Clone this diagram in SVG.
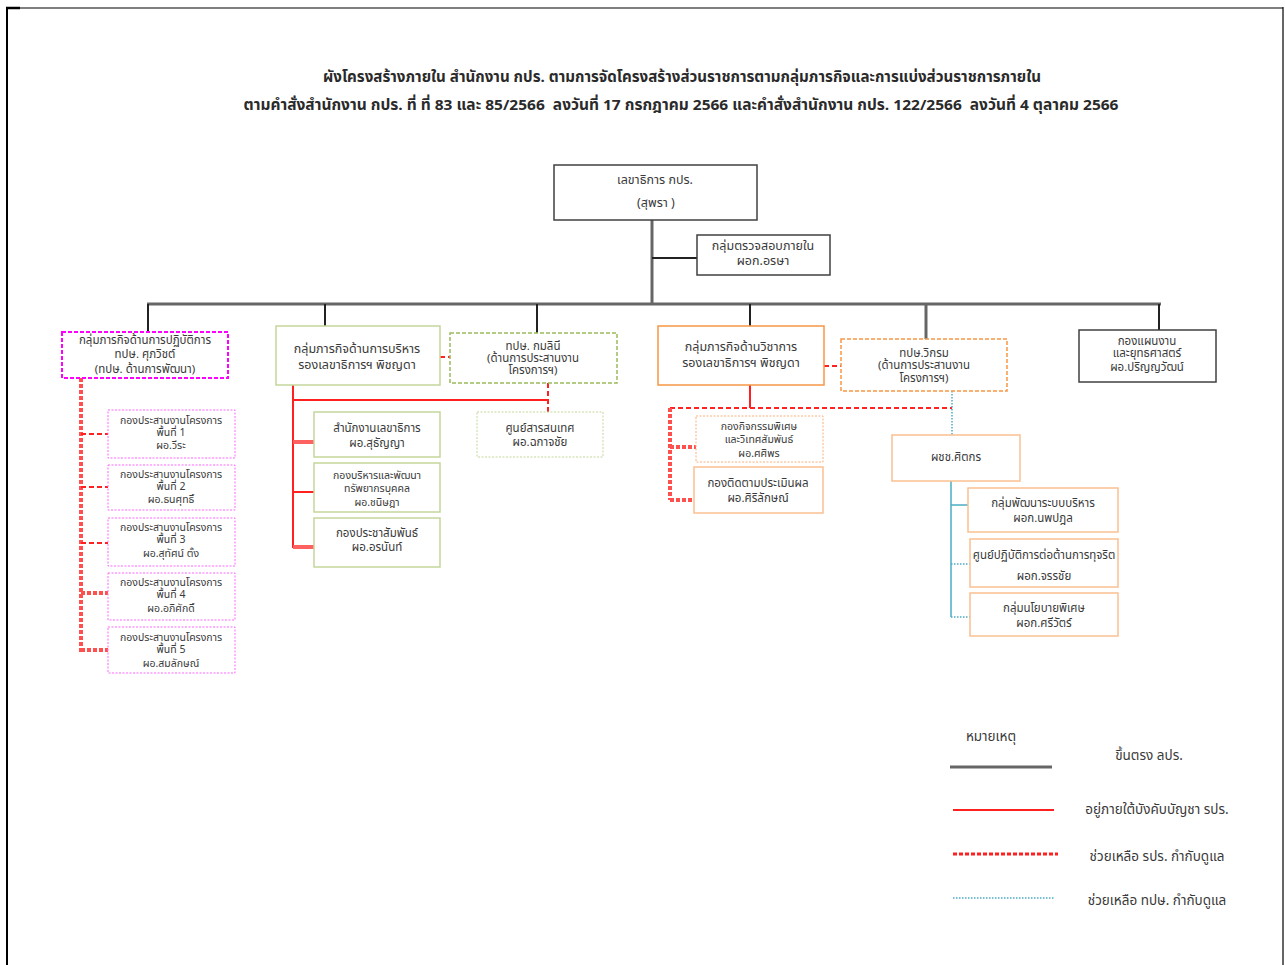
<svg xmlns="http://www.w3.org/2000/svg" width="1285" height="965" viewBox="0 0 1285 965">
<style>
text{font-family:"Noto Sans Thai","Tahoma","Liberation Sans","Noto Sans",sans-serif;fill:#3a3a3a;text-anchor:middle}
.t{font-size:15px;fill:#2a2a2a;font-weight:bold;white-space:pre}
.n{font-size:10.5px}
.m{font-size:11.5px}
.h{font-size:12.5px}
.l{font-size:13.5px}
.box{fill:#fff}
.blk{stroke:#404040;stroke-width:1.5}
.mag{stroke:#ff00ff;stroke-width:2;stroke-dasharray:4 2}
.pink{stroke:#ff66ff;stroke-width:1;stroke-dasharray:2 1.5}
.grn{stroke:#c3d69b;stroke-width:1.5}
.grnd{stroke:#9bbb59;stroke-width:1.5;stroke-dasharray:4 2}
.grnp{stroke:#c3d69b;stroke-width:1;stroke-dasharray:2 1.5}
.org{stroke:#f79646;stroke-width:1.5}
.orgd{stroke:#f79646;stroke-width:1.5;stroke-dasharray:4 2}
.orgp{stroke:#fab07a;stroke-width:1;stroke-dasharray:2 1.5}
.orgl{stroke:#fac090;stroke-width:1.5}
.c{fill:none}
.gray{stroke:#666;stroke-width:3}
.dk{stroke:#222;stroke-width:2}
.red{stroke:#ff2020;stroke-width:2}
.redt{stroke:#ff6060;stroke-width:4}
.redd{stroke:#ff2020;stroke-width:2;stroke-dasharray:5 3}
.reddt{stroke:#ff5050;stroke-width:4;stroke-dasharray:4 2}
.blu{stroke:#4bacc6;stroke-width:1.5}
.blud{stroke:#4bacc6;stroke-width:1.5;stroke-dasharray:1.5 1.5}
</style>
<g id="page-border" fill="none" stroke="#000">
<line x1="7" y1="8" x2="1283" y2="8" stroke-width="1.2"/>
<line x1="7" y1="7" x2="7" y2="965" stroke-width="2"/>
<line x1="1283" y1="7" x2="1283" y2="965" stroke-width="1.2"/>
<line x1="6" y1="8" x2="20" y2="8" stroke-width="2.5"/>
</g>
<g id="title">
<text class="t" x="682" y="82" textLength="718" lengthAdjust="spacingAndGlyphs">ผังโครงสร้างภายใน สำนักงาน กปร. ตามการจัดโครงสร้างส่วนราชการตามกลุ่มภารกิจและการแบ่งส่วนราชการภายใน</text>
<text class="t" x="681" y="110" textLength="875" lengthAdjust="spacingAndGlyphs">ตามคำสั่งสำนักงาน กปร. ที่ ที่ 83 และ 85/2566  ลงวันที่ 17 กรกฎาคม 2566 และคำสั่งสำนักงาน กปร. 122/2566  ลงวันที่ 4 ตุลาคม 2566</text>
</g>
<g id="connectors" class="c">
<line class="gray" x1="652" y1="220" x2="652" y2="305"/>
<line class="dk" x1="652" y1="258" x2="697" y2="258"/>
<line class="gray" x1="147" y1="304" x2="1161" y2="304"/>
<line class="dk" x1="148" y1="304" x2="148" y2="332"/>
<line class="dk" x1="325" y1="304" x2="325" y2="326"/>
<line class="dk" x1="537" y1="304" x2="537" y2="333"/>
<line class="dk" x1="750" y1="304" x2="750" y2="326"/>
<line class="gray" x1="926" y1="304" x2="926" y2="339"/>
<line class="dk" x1="1159" y1="304" x2="1159" y2="330"/>
<line class="reddt" x1="81" y1="378" x2="81" y2="652"/>
<line class="redd" x1="81" y1="434" x2="108" y2="434"/>
<line class="redd" x1="81" y1="487" x2="108" y2="487"/>
<line class="redd" x1="81" y1="543" x2="108" y2="543"/>
<line class="reddt" x1="81" y1="593" x2="108" y2="593"/>
<line class="reddt" x1="81" y1="650" x2="108" y2="650"/>
<line class="redd" x1="440" y1="357" x2="450" y2="357"/>
<line class="red" x1="293" y1="385" x2="293" y2="548"/>
<line class="red" x1="293" y1="400" x2="548" y2="400"/>
<line class="redd" x1="548" y1="383" x2="548" y2="412"/>
<line class="redt" x1="293" y1="442" x2="314" y2="442"/>
<line class="red" x1="293" y1="492" x2="314" y2="492"/>
<line class="redt" x1="293" y1="547" x2="314" y2="547"/>
<line class="redd" x1="824" y1="366" x2="841" y2="366"/>
<line class="red" x1="750" y1="385" x2="750" y2="408"/>
<line class="redd" x1="670" y1="408" x2="952" y2="408"/>
<line class="reddt" x1="670" y1="408" x2="670" y2="500"/>
<line class="reddt" x1="670" y1="447" x2="696" y2="447"/>
<line class="reddt" x1="670" y1="500" x2="694" y2="500"/>
<line class="blud" x1="952" y1="391" x2="952" y2="435"/>
<line class="blu" x1="951" y1="481" x2="951" y2="617"/>
<line class="blu" x1="951" y1="505" x2="968" y2="505"/>
<line class="blud" x1="951" y1="564" x2="970" y2="564"/>
<line class="blud" x1="951" y1="617" x2="970" y2="617"/>
</g>
<g id="n-secgen">
<rect class="box blk" x="554" y="165" width="203" height="55"/>
<text class="h" x="655" y="184">เลขาธิการ กปร.</text>
<text class="h" x="656" y="207">(สุพรา )</text>
</g>
<g id="n-audit">
<rect class="box blk" x="697" y="235" width="133" height="40"/>
<text class="h" x="763" y="250">กลุ่มตรวจสอบภายใน</text>
<text class="h" x="763" y="265">ผอก.อรษา</text>
</g>
<g id="n-ops">
<rect class="box mag" x="62" y="332" width="166" height="46"/>
<text class="m" x="145" y="344">กลุ่มภารกิจด้านการปฏิบัติการ</text>
<text class="m" x="145" y="358">ทปษ. ศุภวิชต์</text>
<text class="m" x="145" y="373">(ทปษ. ด้านการพัฒนา)</text>
</g>
<g id="n-area1">
<rect class="box pink" x="108" y="410" width="127" height="48"/>
<text class="n" x="171" y="424">กองประสานงานโครงการ</text>
<text class="n" x="171" y="436">พื้นที่ 1</text>
<text class="n" x="171" y="449">ผอ.วีระ</text>
</g>
<g id="n-area2">
<rect class="box pink" x="108" y="465" width="127" height="45"/>
<text class="n" x="171" y="478">กองประสานงานโครงการ</text>
<text class="n" x="171" y="490">พื้นที่ 2</text>
<text class="n" x="171" y="503">ผอ.ธนศุทธิ์</text>
</g>
<g id="n-area3">
<rect class="box pink" x="108" y="518" width="127" height="48"/>
<text class="n" x="171" y="531">กองประสานงานโครงการ</text>
<text class="n" x="171" y="543">พื้นที่ 3</text>
<text class="n" x="171" y="557">ผอ.สุทัศน์ ตั้ง</text>
</g>
<g id="n-area4">
<rect class="box pink" x="108" y="573" width="127" height="47"/>
<text class="n" x="171" y="586">กองประสานงานโครงการ</text>
<text class="n" x="171" y="598">พื้นที่ 4</text>
<text class="n" x="171" y="612">ผอ.อภิศักดิ์</text>
</g>
<g id="n-area5">
<rect class="box pink" x="108" y="627" width="127" height="46"/>
<text class="n" x="171" y="641">กองประสานงานโครงการ</text>
<text class="n" x="171" y="653">พื้นที่ 5</text>
<text class="n" x="171" y="667">ผอ.สมลักษณ์</text>
</g>
<g id="n-admin">
<rect class="box grn" x="276" y="326" width="164" height="59"/>
<text class="h" x="357" y="353">กลุ่มภารกิจด้านการบริหาร</text>
<text class="h" x="357" y="369">รองเลขาธิการฯ พิชญดา</text>
</g>
<g id="n-kamolini">
<rect class="box grnd" x="450" y="333" width="167" height="50"/>
<text class="m" x="533" y="350">ทปษ. กมลินี</text>
<text class="m" x="533" y="362">(ด้านการประสานงาน</text>
<text class="m" x="533" y="374">โครงการฯ)</text>
</g>
<g id="n-info">
<rect class="box grnp" x="477" y="412" width="126" height="45"/>
<text class="m" x="540" y="432">ศูนย์สารสนเทศ</text>
<text class="m" x="540" y="446">ผอ.ฉกาจชัย</text>
</g>
<g id="n-office">
<rect class="box grn" x="314" y="412" width="126" height="45"/>
<text class="m" x="377" y="432">สำนักงานเลขาธิการ</text>
<text class="m" x="377" y="447">ผอ.สุธัญญา</text>
</g>
<g id="n-hr">
<rect class="box grn" x="314" y="463" width="126" height="49"/>
<text class="n" x="377" y="479">กองบริหารและพัฒนา</text>
<text class="n" x="377" y="492">ทรัพยากรบุคคล</text>
<text class="n" x="377" y="506">ผอ.ชนิษฎา</text>
</g>
<g id="n-pr">
<rect class="box grn" x="314" y="518" width="126" height="49"/>
<text class="m" x="377" y="537">กองประชาสัมพันธ์</text>
<text class="m" x="377" y="551">ผอ.อรนันท์</text>
</g>
<g id="n-academic">
<rect class="box org" x="658" y="326" width="166" height="59"/>
<text class="h" x="741" y="351">กลุ่มภารกิจด้านวิชาการ</text>
<text class="h" x="741" y="367">รองเลขาธิการฯ พิชญดา</text>
</g>
<g id="n-vikrom">
<rect class="box orgd" x="841" y="339" width="166" height="52"/>
<text class="m" x="924" y="357">ทปษ.วิกรม</text>
<text class="m" x="924" y="369">(ด้านการประสานงาน</text>
<text class="m" x="924" y="382">โครงการฯ)</text>
</g>
<g id="n-special">
<rect class="box orgp" x="696" y="416" width="127" height="46"/>
<text class="n" x="759" y="430">กองกิจกรรมพิเศษ</text>
<text class="n" x="759" y="443">และวิเทศสัมพันธ์</text>
<text class="n" x="759" y="457">ผอ.ศศิพร</text>
</g>
<g id="n-monitor">
<rect class="box orgl" x="694" y="467" width="129" height="46"/>
<text class="m" x="758" y="487">กองติดตามประเมินผล</text>
<text class="m" x="758" y="502">ผอ.ศิริลักษณ์</text>
</g>
<g id="n-expert">
<rect class="box orgl" x="892" y="435" width="128" height="46"/>
<text class="m" x="956" y="461">ผชช.ศิตกร</text>
</g>
<g id="n-sysdev">
<rect class="box orgl" x="968" y="488" width="150" height="44"/>
<text class="m" x="1043" y="507">กลุ่มพัฒนาระบบบริหาร</text>
<text class="m" x="1043" y="522">ผอก.นพปฎล</text>
</g>
<g id="n-anticorrupt">
<rect class="box orgl" x="970" y="539" width="148" height="48"/>
<text class="m" x="1044" y="559">ศูนย์ปฏิบัติการต่อต้านการทุจริต</text>
<text class="m" x="1044" y="580">ผอก.จรรชัย</text>
</g>
<g id="n-policy">
<rect class="box orgl" x="970" y="593" width="148" height="43"/>
<text class="m" x="1044" y="612">กลุ่มนโยบายพิเศษ</text>
<text class="m" x="1044" y="627">ผอก.ศรีวัตร์</text>
</g>
<g id="n-plan">
<rect class="box blk" x="1079" y="330" width="137" height="52"/>
<text class="m" x="1147" y="345">กองแผนงาน</text>
<text class="m" x="1147" y="357">และยุทธศาสตร์</text>
<text class="m" x="1147" y="371">ผอ.ปริญญวัฒน์</text>
</g>
<g id="legend">
<text class="l" x="991" y="741">หมายเหตุ</text>
<line class="gray" x1="950" y1="767" x2="1052" y2="767"/>
<text class="l" x="1149" y="760">ขึ้นตรง ลปร.</text>
<line class="red" x1="953" y1="810" x2="1054" y2="810"/>
<text class="l" x="1157" y="814">อยู่ภายใต้บังคับบัญชา รปร.</text>
<line class="redd" x1="953" y1="854" x2="1058" y2="854" style="stroke-width:3;stroke-dasharray:4 2"/>
<text class="l" x="1157" y="861">ช่วยเหลือ รปร. กำกับดูแล</text>
<line class="blud" x1="953" y1="898" x2="1055" y2="898"/>
<text class="l" x="1157" y="905">ช่วยเหลือ ทปษ. กำกับดูแล</text>
</g>
</svg>
